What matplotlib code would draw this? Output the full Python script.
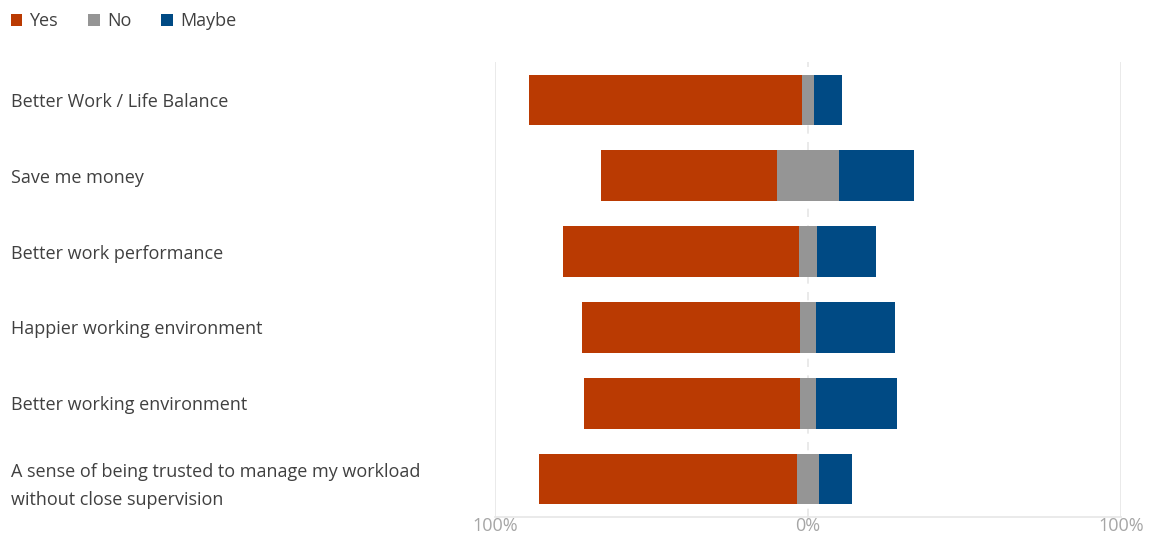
import matplotlib.pyplot as plt
from matplotlib.patches import Patch
from matplotlib.transforms import blended_transform_factory

# Survey answers, share of respondents in percent
categories = ['Better Work / Life Balance',
              'Save me money',
              'Better work performance',
              'Happier working environment',
              'Better working environment',
              'A sense of being trusted to manage my workload\nwithout close supervision']
yes_pct = [87.2, 56.0, 75.2, 69.8, 69.2, 82.6]
no_pct = [4.0, 20.0, 6.0, 5.0, 5.0, 7.0]
maybe_pct = [8.8, 24.0, 18.8, 25.2, 25.8, 10.4]

tick_values = [-100, 0, 100]
tick_labels = ['100%', '0%', '100%']

yes_color = '#BA3A02'
no_color = '#959595'
maybe_color = '#004A84'

plt.rcParams['font.family'] = ['Open Sans', 'DejaVu Sans']

fig = plt.figure(figsize=(11.5, 5.39), dpi=100)
ax = fig.add_axes([495 / 1150, 22 / 539, 626 / 1150, 455 / 539])

ypos = list(range(len(categories)))
bar_h = 0.67

# "No" sits centred on zero, "Yes" extends left of it and "Maybe" right
no_left = [-n / 2 for n in no_pct]
yes_left = [nl - y for nl, y in zip(no_left, yes_pct)]
maybe_left = [n / 2 for n in no_pct]

ax.barh(ypos, yes_pct, left=yes_left, height=bar_h, color=yes_color, zorder=3)
ax.barh(ypos, no_pct, left=no_left, height=bar_h, color=no_color, zorder=3)
ax.barh(ypos, maybe_pct, left=maybe_left, height=bar_h, color=maybe_color, zorder=3)

ax.set_xlim(-100, 100)
ax.set_ylim(len(categories) - 0.5, -0.5)

# grid: solid at the extremes, dashed through zero
for v in (-100, 100):
    ax.axvline(v, color='#E6E6E6', lw=1.2, zorder=1)
ax.axvline(0, color='#E6E6E6', lw=1.2, ls=(0, (5, 5)), zorder=1)

for side in ['top', 'right', 'left']:
    ax.spines[side].set_visible(False)
ax.spines['bottom'].set_color('#E6E6E6')
ax.spines['bottom'].set_linewidth(1.2)

ax.set_xticks(tick_values)
ax.set_xticklabels(tick_labels, fontsize=13, color='#A6A6A6')
ax.tick_params(axis='x', length=0, pad=0)
ax.set_yticks([])

# category names are left aligned at the figure edge
trans = blended_transform_factory(fig.transFigure, ax.transData)
for y, name in zip(ypos, categories):
    ax.text(11 / 1150, y, name, transform=trans, ha='left', va='center_baseline',
            fontsize=13, color='#404040', linespacing=1.7)

handles = [Patch(facecolor=yes_color, label='Yes'),
           Patch(facecolor=no_color, label='No'),
           Patch(facecolor=maybe_color, label='Maybe')]
leg = fig.legend(handles=handles, loc='upper left', bbox_to_anchor=(-0.005, 1.007),
                 ncol=3, frameon=False, fontsize=13, handlelength=0.65,
                 handleheight=0.65, handletextpad=0.4, columnspacing=1.65)
for t in leg.get_texts():
    t.set_color('#404040')

fig.savefig('out.png', dpi=100)
